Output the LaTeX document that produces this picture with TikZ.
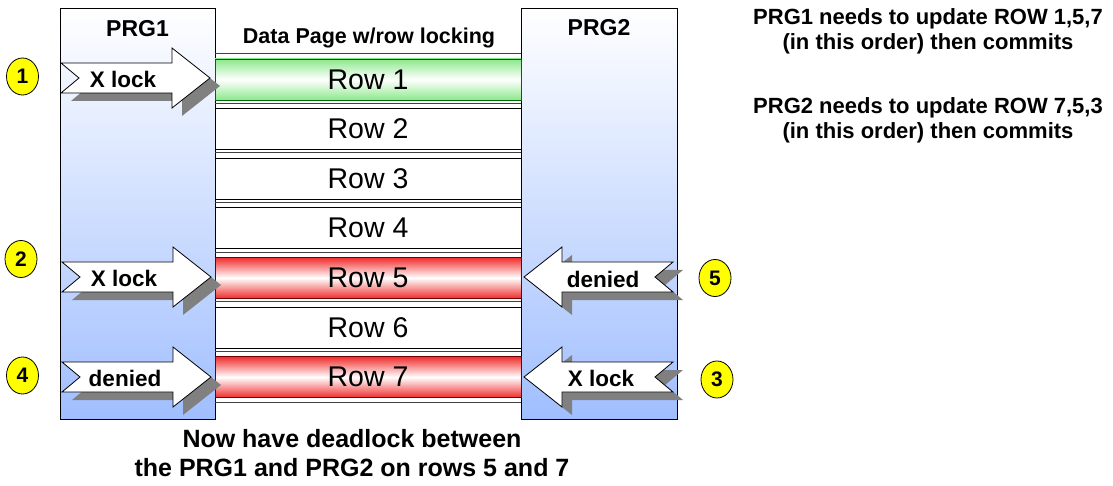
\documentclass[tikz,border=0pt]{standalone}
\usepackage{fontspec}
\setmainfont{Liberation Sans}
\usetikzlibrary{shapes.geometric}

\definecolor{prgblue}{RGB}{160,190,255}
\definecolor{lockgreen}{RGB}{140,232,140}
\definecolor{lockred}{RGB}{240,45,45}
\definecolor{shadowgray}{RGB}{128,128,128}
\definecolor{dotyellow}{RGB}{255,255,0}

\tikzset{
  prgbox/.style={draw, line width=0.8pt, top color=white, bottom color=prgblue,
    minimum height=411, inner sep=0},
  head/.style={font=\fontsize{23}{26}\selectfont\bfseries},
  freerow/.style={draw, line width=0.8pt, fill=white, minimum width=306,
    minimum height=41, inner sep=0, font=\fontsize{28.5}{30}\selectfont},
  greenrow/.style={freerow, draw=green!40!black, top color=lockgreen,
    bottom color=lockgreen, middle color=white},
  redrow/.style={freerow, draw=red!45!black, top color=lockred,
    bottom color=lockred, middle color=white},
  sepline/.style={line width=0.6pt, black!75},
  arrowtext/.style={font=\fontsize{22.5}{24}\selectfont\bfseries, inner sep=1pt},
  numdot/.style={ellipse, draw, line width=0.8pt, fill=dotyellow, minimum width=32,
    minimum height=37, inner sep=0, font=\fontsize{21}{24}\selectfont\bfseries},
  note/.style={align=center, font=\fontsize{22}{25}\selectfont\bfseries},
  % block arrow with notched tail, #1 = shadow x offset
  pics/lockarrow/.style={code={
    \fill[shadowgray, shift={(#1,8)}] (0,-15) -- (111,-15) -- (111,-30) -- (149,0)
      -- (111,30) -- (111,15) -- (0,15) -- (18,0) -- cycle;
    \draw[line width=0.8pt, fill=white] (0,-15) -- (111,-15) -- (111,-30) -- (149,0)
      -- (111,30) -- (111,15) -- (0,15) -- (18,0) -- cycle;
  }}
}

\begin{document}
\begin{tikzpicture}[x=1pt, y=-1pt]
  \useasboundingbox (0,0) rectangle (1113,486);

  % the two programs
  \node[prgbox, minimum width=155] (prg1) at (137.5,213.5) {};
  \node[prgbox, minimum width=156] (prg2) at (599,213.5) {};
  \node[head] (prg1title) at (137.5,29) {PRG1};
  \node[head] (prg2title) at (599,28) {PRG2};

  % data page and its rows
  \node[head, font=\fontsize{21.5}{24}\selectfont\bfseries] (pagetitle) at (369,38)
    {Data Page w/row locking};
  \foreach \i/\kind in {1/greenrow,2/freerow,3/freerow,4/freerow,5/redrow,6/freerow,7/redrow}{
    \node[\kind] (row\i) at (368,{79.5+(\i-1)*49.6}) {Row \i};
    \draw[sepline] ([yshift=5pt]row\i.north west) -- ([yshift=5pt]row\i.north east);
  }
  \draw[sepline] ([yshift=-4pt]row7.south west) -- ([yshift=-4pt]row7.south east);

  % PRG1 requests
  \pic at (61,78) {lockarrow=10};
  \node[arrowtext] (lock1) at (123,79) {X lock};
  \pic at (62,277) {lockarrow=10};
  \node[arrowtext] (lock2) at (124,278) {X lock};
  \pic at (62,377) {lockarrow=10};
  \node[arrowtext] (deny4) at (125,378) {denied};

  % PRG2 requests
  \pic[xscale=-1] at (673,277) {lockarrow=-10};
  \node[arrowtext] (deny5) at (603,279) {denied};
  \pic[xscale=-1] at (673,377) {lockarrow=-10};
  \node[arrowtext] (lock3) at (601,378) {X lock};

  % order of events
  \node[numdot] (step1) at (22.5,76.5) {1};
  \node[numdot] (step2) at (21,259) {2};
  \node[numdot] (step4) at (22.5,375.5) {4};
  \node[numdot] (step5) at (715,278) {5};
  \node[numdot] (step3) at (717,379.5) {3};

  % notes
  \node[note] (plan1) at (928,31)
    {PRG1 needs to update ROW 1,5,7\\(in this order) then commits};
  \node[note] (plan2) at (928,120)
    {PRG2 needs to update ROW 7,5,3\\(in this order) then commits};
  \node[note, font=\fontsize{25}{29}\selectfont\bfseries] (summary) at (352,453)
    {Now have deadlock between\\the PRG1 and PRG2 on rows 5 and 7};
\end{tikzpicture}
\end{document}
